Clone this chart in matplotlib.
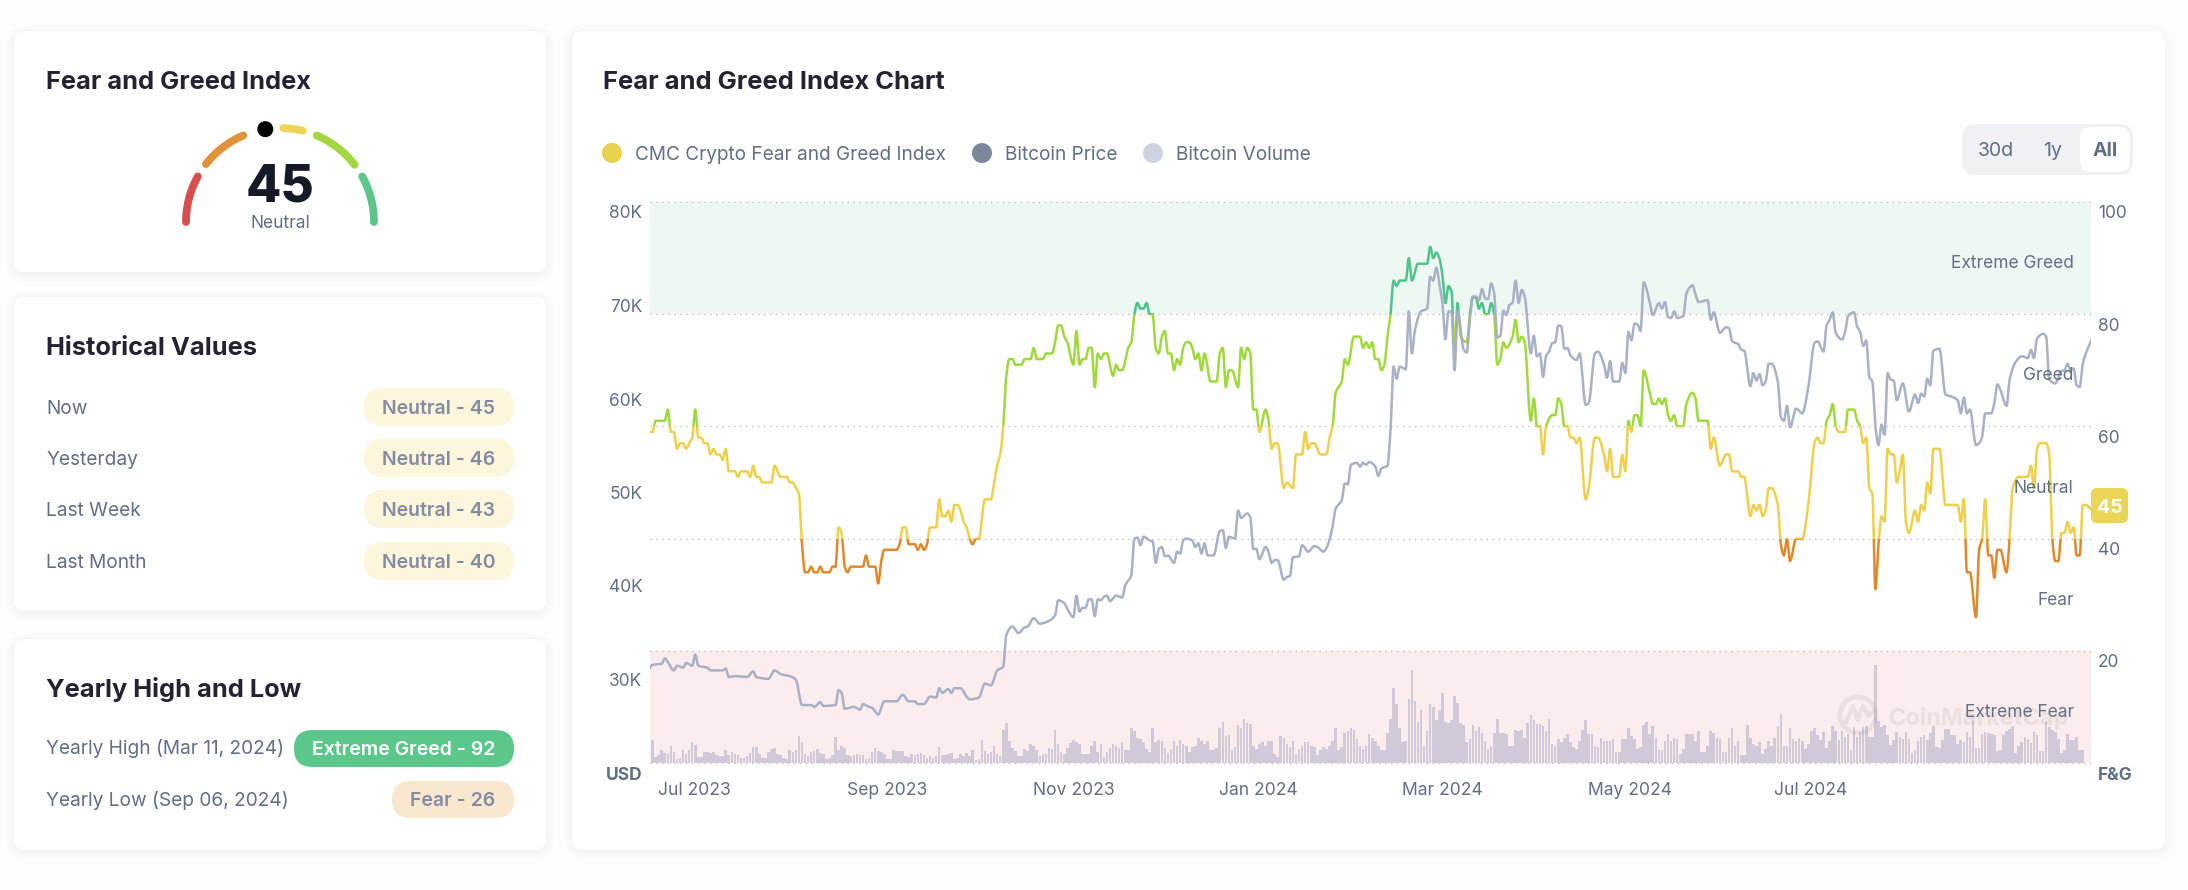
import numpy as np
import matplotlib
matplotlib.use("Agg")
import matplotlib.pyplot as plt
import matplotlib.dates as mdates
from matplotlib.patches import FancyBboxPatch, Rectangle, Circle
from matplotlib.transforms import ScaledTranslation

plt.rcParams['font.family'] = ['Inter', 'DejaVu Sans']

# ---------- data ----------
start_date = '2023-06-29'
fng_points = [(0,59),(1,59),(2,61),(5,61),(6,63),(7,59),(8,59),(9,56),(10,57),(11,57),(12,56),(13,57),(14,58),(15,63),(16,58),(17,58),(18,57),(19,57),(20,55),(21,56),(22,55),(23,55),(24,54),(25,56),(26,52),(28,52),(29,51),(30,52),(32,52),(33,51),(34,53),(35,51),(36,51),(37,50),(40,50),(41,53),(43,51),(45,51),(46,50),(47,50),(48,49),(49,48),(50,39),(51,34),(52,34),(53,35),(54,34),(55,34),(56,35),(57,34),(59,34),(60,35),(61,35),(62,42),(63,41),(64,35),(65,34),(66,35),(70,35),(71,37),(72,35),(74,35),(75,32),(76,36),(77,38),(81,38),(82,39),(83,42),(84,42),(85,39),(87,39),(88,38),(89,39),(90,38),(91,39),(92,42),(94,42),(95,47),(96,44),(97,44),(98,45),(99,43),(100,46),(101,46),(102,45),(103,43),(104,42),(105,40),(106,39),(107,40),(108,40),(110,47),(112,47),(113,50),(114,53),(115,55),(116,60),(117,69),(118,72),(119,72),(120,71),(122,71),(123,72),(125,72),(126,74),(127,72),(129,72),(130,73),(132,73),(133,75),(134,78),(135,78),(136,76),(137,75),(139,71),(140,77),(141,71),(142,72),(143,72),(144,74),(145,74),(146,67),(147,73),(148,72),(149,73),(150,73),(152,69),(153,71),(154,70),(155,70),(157,74),(158,75),(159,80),(160,82),(161,81),(162,81),(163,82),(164,80),(165,80),(166,74),(167,73),(168,76),(169,77),(170,73),(171,73),(172,70),(173,72),(174,71),(175,74),(176,75),(177,75),(178,74),(179,72),(180,73),(181,70),(182,73),(184,68),(186,68),(187,73),(188,74),(189,67),(190,70),(191,70),(193,67),(194,74),(195,72),(196,74),(197,73),(198,63),(199,63),(200,59),(202,63),(203,61),(204,56),(205,57),(206,57),(208,49),(209,50),(211,49),(212,55),(214,55),(215,59),(216,56),(217,57),(218,57),(220,55),(222,55),(223,58),(224,60),(225,66),(227,68),(228,72),(229,71),(231,76),(233,76),(234,74),(235,75),(236,74),(237,75),(238,72),(239,72),(240,70),(241,71),(242,76),(243,80),(244,86),(245,85),(246,86),(248,86),(249,90),(250,86),(252,89),(255,89),(256,92),(257,90),(258,91),(259,90),(260,87),(261,82),(262,85),(263,84),(264,74),(265,82),(266,76),(268,75),(269,80),(270,83),(271,83),(272,81),(273,82),(274,80),(275,80),(276,82),(277,80),(278,71),(279,72),(280,75),(281,74),(283,76),(284,79),(285,75),(286,76),(287,75),(289,61),(290,65),(291,60),(292,60),(293,55),(294,60),(296,62),(297,62),(298,65),(299,64),(300,60),(301,60),(302,58),(303,58),(304,57),(305,58),(307,47),(308,49),(310,58),(311,58),(313,55),(314,52),(315,56),(316,51),(318,51),(319,55),(320,52),(321,61),(322,59),(323,62),(324,62),(325,60),(326,70),(328,66),(329,64),(330,64),(331,65),(332,64),(333,65),(334,62),(335,61),(336,62),(337,60),(339,60),(340,64),(342,66),(343,65),(344,61),(347,61),(348,56),(349,58),(351,53),(353,55),(354,55),(355,52),(357,52),(358,51),(359,51),(361,44),(362,46),(363,45),(364,46),(365,44),(366,45),(367,49),(368,49),(370,46),(371,39),(372,37),(373,40),(374,36),(376,40),(378,40),(380,46),(382,57),(383,58),(384,57),(385,57),(386,61),(387,62),(388,64),(389,60),(390,59),(392,59),(393,63),(395,63),(396,61),(397,60),(398,57),(399,58),(400,49),(401,48),(402,31),(403,39),(404,44),(405,43),(406,56),(407,55),(408,55),(409,50),(410,52),(411,55),(412,43),(413,41),(415,45),(416,43),(417,46),(418,45),(419,50),(420,48),(421,56),(423,56),(425,46),(429,46),(430,43),(431,47),(432,34),(433,34),(435,26),(436,38),(437,40),(438,47),(439,37),(440,37),(441,33),(442,38),(443,38),(445,34),(446,40),(447,49),(449,51),(452,51),(453,53),(454,49),(455,56),(456,57),(458,57),(459,55),(460,40),(461,36),(462,36),(463,41),(464,41),(465,43),(466,41),(467,42),(468,37),(469,37),(470,46),(471,46),(473,45)]

btc_points = [(0,30.1),(1,30.5),(4,30.6),(5,31.2),(6,30.8),(8,29.9),(9,30.4),(11,30.2),(12,30.7),(14,30.4),(15,31.6),(16,30.4),(19,30.2),(20,29.9),(24,29.9),(25,30.1),(26,29.2),(28,29.3),(32,29.2),(34,29.8),(35,29.2),(39,29.0),(41,29.9),(43,29.5),(46,29.3),(48,28.9),(50,26.2),(53,26.2),(54,26.0),(56,26.5),(57,26.1),(61,26.2),(62,27.8),(63,27.5),(64,25.8),(67,26.0),(69,25.7),(70,26.3),(72,26.0),(73,25.9),(75,25.2),(77,26.6),(81,26.6),(83,27.3),(85,26.6),(87,26.6),(88,26.3),(90,26.3),(92,27.1),(94,27.0),(95,28.0),(96,27.5),(98,27.9),(99,27.5),(100,28.0),(102,28.0),(104,27.1),(105,26.8),(108,27.0),(110,28.5),(112,28.3),(114,29.9),(116,30.3),(117,33.7),(119,34.6),(121,33.9),(123,34.5),(124,34.6),(126,35.5),(128,34.9),(131,35.2),(133,35.8),(134,37.4),(136,37.1),(137,36.5),(139,35.6),(140,37.9),(141,36.2),(142,36.6),(143,36.6),(144,37.5),(145,37.5),(146,35.7),(147,37.5),(148,37.4),(149,37.8),(150,37.9),(151,37.3),(153,37.9),(155,37.7),(156,39.0),(158,40.1),(159,44.0),(160,44.1),(161,43.3),(162,44.2),(164,43.8),(165,43.7),(166,41.4),(167,42.9),(168,43.1),(169,42.1),(170,42.2),(172,41.4),(173,42.6),(174,42.4),(175,43.8),(176,44.0),(178,43.8),(179,43.1),(180,43.5),(181,42.4),(182,43.5),(183,42.2),(185,42.2),(187,44.8),(188,44.9),(189,43.0),(190,44.2),(192,44.0),(193,47.0),(194,46.2),(196,46.7),(197,46.3),(198,42.9),(199,42.9),(200,41.8),(202,43.1),(203,42.6),(204,41.4),(205,41.7),(206,41.7),(208,39.6),(209,39.9),(210,40.0),(211,42.0),(213,42.1),(214,43.3),(216,42.6),(218,43.2),(219,43.1),(221,42.6),(222,43.0),(223,43.9),(224,45.3),(225,47.2),(227,48.1),(228,49.9),(229,49.8),(230,51.9),(232,52.1),(233,51.7),(234,52.1),(235,51.9),(236,52.2),(238,51.7),(239,50.7),(240,51.5),(242,51.8),(243,55.6),(244,62.4),(245,61.1),(246,62.4),(248,62.1),(249,68.3),(250,63.8),(251,66.3),(253,68.3),(255,68.6),(256,72.0),(257,71.6),(258,73.0),(259,71.3),(260,69.2),(261,65.3),(262,68.3),(263,68.3),(264,62.0),(265,68.3),(267,64.2),(268,63.9),(269,67.4),(270,69.9),(271,69.9),(272,69.5),(273,70.7),(274,69.7),(275,69.6),(276,71.3),(277,70.2),(278,65.5),(279,65.7),(280,68.4),(281,67.9),(282,69.0),(283,69.2),(284,71.6),(285,69.2),(286,70.6),(287,69.9),(289,63.8),(290,65.7),(291,63.5),(292,63.8),(293,61.3),(294,63.5),(295,64.0),(296,64.9),(297,65.0),(298,66.8),(299,66.7),(300,64.3),(301,64.4),(302,63.6),(304,63.1),(305,63.8),(307,58.3),(308,58.5),(310,63.8),(311,64.0),(313,62.6),(314,61.2),(315,63.0),(316,60.8),(318,60.8),(319,62.8),(320,61.7),(321,66.1),(322,65.2),(323,67.0),(324,66.9),(325,66.2),(326,71.4),(328,69.3),(329,67.9),(331,69.2),(332,68.6),(333,69.3),(334,67.7),(335,67.6),(336,68.3),(337,67.6),(339,67.8),(340,70.2),(341,70.8),(342,71.1),(343,70.1),(344,69.3),(347,69.5),(348,67.4),(349,68.2),(351,66.0),(353,66.6),(354,66.5),(355,65.1),(357,64.8),(358,64.2),(359,64.1),(361,60.3),(362,61.7),(363,60.9),(364,61.6),(365,60.4),(366,60.8),(367,62.7),(368,62.7),(370,60.8),(371,57.0),(372,56.6),(373,58.2),(374,55.9),(376,57.9),(378,57.4),(380,60.2),(382,64.9),(383,65.1),(385,64.0),(386,66.8),(387,67.4),(388,68.2),(389,66.0),(391,65.3),(392,66.0),(393,67.8),(395,68.2),(396,66.7),(397,66.1),(398,64.6),(399,65.2),(400,61.3),(401,60.8),(402,56.0),(403,54.0),(404,56.2),(405,55.1),(406,61.7),(407,61.0),(408,60.9),(409,58.8),(411,60.6),(413,57.6),(415,59.4),(416,58.5),(417,59.5),(418,59.2),(419,61.1),(420,60.4),(421,64.1),(423,64.3),(425,59.4),(426,59.3),(429,58.8),(430,57.4),(431,59.1),(432,57.4),(433,57.8),(435,54.0),(436,54.2),(437,54.9),(438,57.4),(440,57.4),(441,58.5),(442,60.5),(443,59.9),(445,58.2),(446,61.0),(448,62.9),(450,63.5),(452,63.3),(453,64.2),(454,63.3),(455,65.4),(457,65.9),(458,65.6),(459,61.0),(461,60.6),(463,61.9),(464,62.0),(465,62.7),(466,62.0),(467,62.2),(468,60.4),(469,60.2),(470,62.7),(473,65.4)]

volume_a = [68,18,24,38,30,28,52,34,12,16,38,28,38,62,54,18,18,34,34,30,34,24,20,20,38,24,34,26,24,14,16,22,30,48,48,28,14,14,32,42,46,28,24,14,12,38,32,40,82,62,26,20,34,36,42,30,28,12,14,24,78,38,52,44,24,22,24,28,24,24,12,16,32,46,36,34,28,12,12,38,36,36,36,22,18,28,24,26,30,24,14,22,14,20,48]
volume_b = [23,24,26,30,12,16,26,22,30,20,38,8,12,70,36,28,32,50,28,22,100,120,66,46,36,22,22,42,36,56,50,40,22,26,26,46,42,100,56,32,26,44,60,68,64,56,26,26,26,52,66,34,58,18,32,46,56,52,44,62,38,38,105,95,76,72,62,42,32,105,64,70,66,46,30,42,66,52,70,56,50,32,48,52,76,66,56,66,38,38,46,105,124,80,84]
volume_c = [38,48,115,106,133,120,116,52,43,58,62,52,66,66,28,18,80,76,56,48,66,28,43,52,62,62,52,48,24,38,48,43,52,67,106,38,48,91,96,106,100,72,52,43,52,86,76,66,52,38,38,91,133,226,176,106,62,66,191,279,186,124,158,52,96,176,168,129,158,210,124,120,129,201,181,120,114,62,72,114,96,109,91,67,43,52,91,133,91,91,86,52,52,100,96]
volume_d = [100,76,120,143,129,116,116,110,96,133,57,52,72,62,76,86,62,48,43,67,100,129,86,86,52,48,76,67,67,67,72,33,33,72,72,106,81,72,43,48,115,124,86,110,76,38,38,67,86,67,76,72,28,43,86,86,86,67,96,33,33,52,96,91,76,72,33,33,76,106,52,67,24,24,115,76,57,52,62,28,43,67,52,76,110,148,52,52,105,72,67,76,67,43,57]
volume_e = [97,105,83,68,92,45,65,112,95,68,97,79,87,40,107,78,92,107,112,78,78,295,125,108,115,83,55,70,92,79,73,92,73,30,40,65,78,83,68,90,112,49,45,68,102,102,83,83,58,68,64,92,78,125,45,45,87,92,90,88,83,35,40,83,97,102,112,30,50,64,78,73,59,92,83,35,35,125,107,100,92,73,30,40,88,68,68,79,40,40]

price_ticks = [20, 30, 40, 50, 60, 70, 80]
price_labels = ['USD', '30K', '40K', '50K', '60K', '70K', '80K']
fng_ticks = [0, 20, 40, 60, 80, 100]
fng_labels = ['F&G', '20', '40', '60', '80', '100']
month_ticks = ['2023-07-01', '2023-09-01', '2023-11-01', '2024-01-01', '2024-03-01', '2024-05-01', '2024-07-01']
month_labels = ['Jul 2023', 'Sep 2023', 'Nov 2023', 'Jan 2024', 'Mar 2024', 'May 2024', 'Jul 2024']
bands = [(0, 20, 'Extreme Fear', '#D94D4D'), (20, 40, 'Fear', '#E0892B'), (40, 60, 'Neutral', '#EFD04C'),
         (60, 80, 'Greed', '#A0D93C'), (80, 100, 'Extreme Greed', '#4EC38C')]
gauge_value = 45
historical = [('Now', 'Neutral - 45'), ('Yesterday', 'Neutral - 46'), ('Last Week', 'Neutral - 43'), ('Last Month', 'Neutral - 40')]

# ---------- helpers ----------
DARK = '#222531'; GREY = '#616E85'; PILLTXT = '#858CA2'
W, H = 2188, 890

def monotone(x, y, step=0.1):
    x = np.asarray(x, float); y = np.asarray(y, float)
    h = np.diff(x); d = np.diff(y) / h
    m = np.zeros_like(y); m[0] = d[0]; m[-1] = d[-1]
    for i in range(1, len(x) - 1):
        if d[i - 1] * d[i] > 0:
            m[i] = 2 * d[i - 1] * d[i] / (d[i - 1] + d[i])
    xs = np.arange(x[0], x[-1] + step / 2, step)
    k = np.clip(np.searchsorted(x, xs, side='right') - 1, 0, len(h) - 1)
    t = (xs - x[k]) / h[k]
    ys = ((2*t**3 - 3*t**2 + 1) * y[k] + (t**3 - 2*t**2 + t) * h[k] * m[k]
          + (-2*t**3 + 3*t**2) * y[k + 1] + (t**3 - t**2) * h[k] * m[k + 1])
    return xs, ys

fig = plt.figure(figsize=(W / 100, H / 100), dpi=100, facecolor='#FDFDFE')
bg = fig.add_axes([0, 0, 1, 1], zorder=0)
bg.set_xlim(0, W); bg.set_ylim(H, 0); bg.axis('off')

def rrect(x0, y0, x1, y1, r, fc, ec='none', alpha=None, z=2):
    p = FancyBboxPatch((x0, y0), x1 - x0, y1 - y0, boxstyle=f'round,pad=0,rounding_size={r}',
                       fc=fc, ec=ec, alpha=alpha, zorder=z, lw=0)
    bg.add_patch(p)

def card(x0, y0, x1, y1):
    for i in range(1, 9):
        rrect(x0 - i, y0 - i + 2, x1 + i, y1 + i + 2, 12 + i, '#5A6478', alpha=0.0045, z=1)
    rrect(x0, y0, x1, y1, 12, 'white')

def T(x, y, s, size=13.75, color=GREY, weight='normal', ha='left'):
    bg.text(x, y, s, fontsize=size, color=color, fontweight=weight, ha=ha, va='center_baseline', zorder=5)

card(14, 31, 546, 272); card(14, 297, 546, 611); card(14, 639, 546, 850); card(572, 31, 2165, 850)

# left card 1: gauge
T(46, 80, 'Fear and Greed Index', 18.3, DARK, 'bold')
cx, cy, R = 280, 222, 94
for a0, a1, c in [(180, 151, '#D94D4D'), (142, 113, '#E0933A'), (88, 76, '#F0D458'), (67, 37.5, '#A3D640'), (29, 0, '#5EC68A')]:
    ang = np.radians(np.linspace(a0, a1, 60))
    bg.plot(cx + R * np.cos(ang), cy - R * np.sin(ang), color=c, lw=5.6, solid_capstyle='round', zorder=3)
ang = np.radians(180 - gauge_value * 1.8)
bg.add_patch(Circle((cx + R * np.cos(ang), cy - R * np.sin(ang)), 11, fc='white', ec='none', zorder=4))
bg.add_patch(Circle((cx + R * np.cos(ang), cy - R * np.sin(ang)), 8, fc='black', ec='none', zorder=4))
T(280, 182, str(gauge_value), 37, '#151A26', 800, 'center')
T(280, 222, 'Neutral', 12.5, GREY, 'normal', 'center')

# left card 2
T(46, 346, 'Historical Values', 18.3, DARK, 'bold')
for (lab, val), y in zip(historical, [407, 458, 509, 561]):
    T(46, y, lab)
    rrect(364, y - 19, 514, y + 19, 19, '#FBF6DC')
    T(439, y, val, 14, PILLTXT, 'semibold', 'center')

# left card 3
T(46, 687, 'Yearly High and Low', 18.3, DARK, 'bold')
T(46, 747, 'Yearly High (Mar 11, 2024)')
T(46, 799, 'Yearly Low (Sep 06, 2024)')
rrect(294, 730, 514, 767, 18.5, '#5CC78A'); T(404, 748, 'Extreme Greed - 92', 14, 'white', 'semibold', 'center')
rrect(392, 781, 514, 818, 18.5, '#F8E8D0'); T(453, 799, 'Fear - 26', 14, PILLTXT, 'semibold', 'center')

# right card header
T(603, 80, 'Fear and Greed Index Chart', 18.4, DARK, 'bold')
for xc, xt, c, s in [(612, 635, '#E9D04F', 'CMC Crypto Fear and Greed Index'), (982, 1005, '#7D879C', 'Bitcoin Price'), (1153, 1176, '#CDD3E1', 'Bitcoin Volume')]:
    bg.add_patch(Circle((xc, 153), 10, fc=c, ec='none', zorder=3))
    T(xt, 153, s, 13.7)
rrect(1962, 124, 2133, 175, 14, '#EFF1F5')
rrect(2080, 127, 2130, 172, 11, 'white', z=3)
T(1996, 149, '30d', 14, GREY, 'normal', 'center')
T(2053, 149, '1y', 14, GREY, 'normal', 'center')
T(2105, 149, 'All', 14, GREY, 'bold', 'center')
rrect(2091, 488, 2128, 523, 6, '#EBD557', z=3)
T(2110, 506, str(fng_points[-1][1]), 14, 'white', 'bold', 'center')

# ---------- main chart ----------
rect = [649.5 / W, (H - 763) / H, 1441.5 / W, 561 / H]
ax_fng = fig.add_axes(rect, zorder=1, facecolor='none')
ax_vol = ax_fng.twinx(); ax_vol.set_zorder(2); ax_vol.patch.set_visible(False)
ax_price = ax_fng.twinx(); ax_price.set_zorder(3); ax_price.patch.set_visible(False)

d0 = mdates.datestr2num(start_date)
ax_fng.set_xlim(d0, d0 + 472.7)
ax_fng.set_ylim(0, 100); ax_price.set_ylim(20, 80); ax_vol.set_ylim(0, 1683)

# bands and grid
ax_fng.axhspan(80, 100, fc='#EEF8F3', ec='none', zorder=0)
ax_fng.axhspan(0, 20, fc='#FBEDEE', ec='none', zorder=0)
for v in fng_ticks:
    ax_fng.axhline(v, color='#BDBFC6', lw=1.0, ls=(0, (1, 3.3)), zorder=1, clip_on=False)

# F&G line, coloured by band
fd, fv = zip(*fng_points)
xs, ys = monotone(fd, fv)
for lo, hi, _, col in bands:
    line, = ax_fng.plot(d0 + xs, ys, color=col, lw=1.8, zorder=3, solid_joinstyle='round')
    line.set_clip_path(Rectangle((0, lo), 1, hi - lo, transform=ax_fng.get_yaxis_transform()))

# volume
volume = volume_a + volume_b + volume_c + volume_d + volume_e
ax_vol.bar(d0 + np.arange(1, len(volume) + 1), volume, width=0.85, color='#D2C9D8', lw=0, zorder=2)
ax_vol.set_yticks([])

# price line
pd_, pv = zip(*btc_points)
xs, ys = monotone(pd_, pv)
ax_price.plot(d0 + xs, ys, color='#A5ADC3', lw=1.8, alpha=0.95, zorder=3)

# watermark
tr = ax_fng.get_yaxis_transform()
ax_price.add_patch(Circle((1858, H - 715), 18, transform=None, fc='none', ec='#8A8D9C', lw=3.5, alpha=0.15, zorder=2))
ax_price.plot([1846, 1853, 1858, 1863, 1868, 1873], [H - 722, H - 706, H - 720, H - 706, H - 716, H - 712],
              transform=None, color='#8A8D9C', lw=3, alpha=0.15, zorder=2)
ax_price.text(0.860, 8.0, 'CoinMarketCap', transform=tr, fontsize=17, fontweight='bold', color='#8A8D9C', alpha=0.15,
              ha='left', va='center', zorder=2)

# band labels
for lo, hi, name, _ in bands:
    ax_price.text(0.988, lo + 9, name, transform=tr, ha='right', va='center', fontsize=12.5, color=GREY, zorder=4)

# axes decoration
for a in (ax_fng, ax_vol, ax_price):
    for s in a.spines.values():
        s.set_visible(False)

ax_fng.set_xticks(mdates.datestr2num(month_ticks))
ax_fng.set_xticklabels(month_labels, ha='left', fontsize=12.6, color=GREY)
ax_fng.tick_params(axis='x', length=0, pad=14)
for lb in ax_fng.get_xticklabels():
    lb.set_transform(lb.get_transform() + ScaledTranslation(0.02, 0, fig.dpi_scale_trans))

ax_fng.yaxis.tick_right()
ax_fng.set_yticks(fng_ticks); ax_fng.set_yticklabels(fng_labels, fontsize=12.5, color=GREY)
ax_fng.tick_params(axis='y', length=0, pad=5)
ax_price.yaxis.tick_left()
ax_price.set_yticks(price_ticks); ax_price.set_yticklabels(price_labels, fontsize=12.5, color=GREY)
ax_price.tick_params(axis='y', length=0, pad=5)
for a, bold in ((ax_fng, 'F&G'), (ax_price, 'USD')):
    for lb in a.get_yticklabels():
        lb.set_transform(lb.get_transform() + ScaledTranslation(0, -0.10, fig.dpi_scale_trans))
        if lb.get_text() == bold:
            lb.set_fontweight('bold')

fig.savefig('out.png', dpi=100, facecolor=fig.get_facecolor())
